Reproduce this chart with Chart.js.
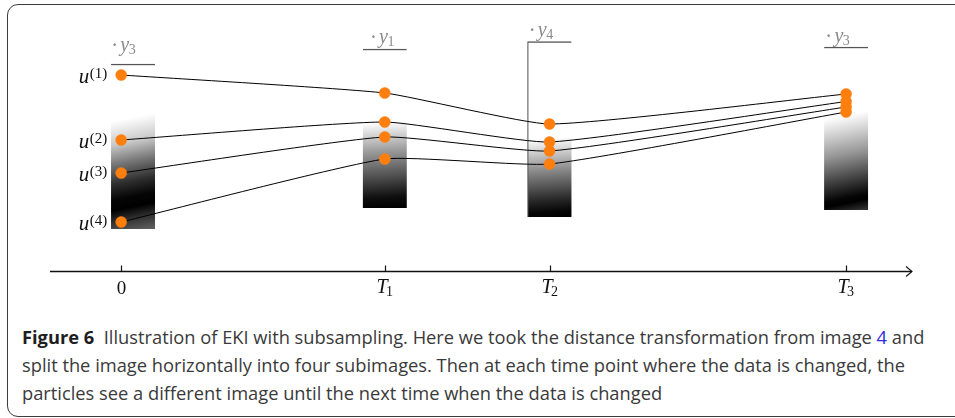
<!DOCTYPE html>
<html>
<head>
<meta charset="utf-8">
<script src="https://cdn.jsdelivr.net/npm/chart.js@4.4.0/dist/chart.umd.min.js"></script>
<style>
    html, body { margin: 0; padding: 0; background: #fff; overflow: hidden; }
    body { width: 955px; height: 418px; position: relative; }
    .frame {
        position: absolute; left: 7px; top: 4px; width: 1000px; height: 411px;
        border: 1.5px solid #3c3c3c; border-radius: 11px;
    }
    #chartWrap { position: absolute; left: 0; top: 0; width: 955px; height: 305px; }
    .caption {
        position: absolute; left: 22px; top: 323px;
        font-family: "Open Sans", "Noto Sans", sans-serif; font-size: 18.3px;
        line-height: 28px; color: #3a3a3a; white-space: nowrap;
    }
    .caption b { color: #1e1e1e; font-weight: 700; }
    .caption .ref { color: #2b2bdc; }
</style>
</head>
<body>
<div class="frame"></div>
<div id="chartWrap"><canvas id="ekiChart"></canvas></div>
<div class="caption">
    <div><b>Figure 6</b>&nbsp; Illustration of EKI with subsampling. Here we took the distance transformation from image <span class="ref">4</span> and</div>
    <div>split the image horizontally into four subimages. Then at each time point where the data is changed, the</div>
    <div>particles see a different image until the next time when the data is changed</div>
</div>

<script>
// time points where the data changes
const timePoints = [0, 1, 1.625, 2.75];
const timeLabels = [['0', ''], ['T', '1'], ['T', '2'], ['T', '3']];

// particle positions at each time point (arbitrary height units)
const particleNames = ['1', '2', '3', '4'];
const u1 = [19.6, 17.8, 14.7, 17.7];
const u2 = [13.1, 14.9, 12.9, 16.95];
const u3 = [9.8, 13.4, 12.0, 16.4];
const u4 = [4.9, 11.2, 10.7, 15.9];

// sub-images shown at each time point: centre, bottom, top
const imageX = [0.045, 1, 1.625, 2.75];
const imageBottom = [4.2, 6.3, 5.4, 6.1];
const imageTop = [20.7, 22.2, 22.95, 22.4];
const imageNames = ['3', '1', '4', '3'];

// gradient look of every sub-image (fraction of height, grey level)
const imageShades = [
    [[0, 255], [0.33, 255], [0.47, 200], [0.58, 120], [0.70, 45], [0.79, 5], [0.85, 0], [0.92, 50], [1, 95]],
    [[0, 255], [0.46, 255], [0.54, 210], [0.65, 150], [0.82, 70], [0.93, 15], [1, 0]],
    [[0, 255], [0.55, 255], [0.62, 210], [0.73, 140], [0.90, 40], [0.97, 5], [1, 0]],
    [[0, 255], [0.42, 255], [0.51, 215], [0.65, 150], [0.81, 60], [0.91, 5], [0.94, 0], [1, 50]]
];
const imageTilt = [9, 3, 3, 9];
const imageBorders = [
    { top: 1.5, right: 0, bottom: 0, left: 0 },
    { top: 1.5, right: 0, bottom: 0, left: 0 },
    { top: 1.5, right: 0, bottom: 0, left: 1.2 },
    { top: 1.5, right: 0, bottom: 0, left: 0 }
];
// label placement above each image: [x offset from left edge, baseline above top]
const imageLabelOffset = [[1, 13], [8, 6], [2, 6], [2, 5]];

const mathFont = '"Liberation Serif", "DejaVu Serif", serif';
const orange = '#ff7f0e';

function shadeGradient(ctx) {
    if (ctx.type !== 'data') return '#888';
    const chart = ctx.chart;
    const x = chart.scales.x, y = chart.scales.y;
    if (!x || !y) return '#888';
    const i = ctx.dataIndex;
    const top = y.getPixelForValue(imageTop[i]);
    const bottom = y.getPixelForValue(imageBottom[i]);
    const cx = x.getPixelForValue(imageX[i]);
    if (![top, bottom, cx].every(Number.isFinite) || bottom <= top) return '#888';
    const h = bottom - top;
    const dx = imageTilt[i] * h / 44;
    const g = chart.ctx.createLinearGradient(cx - dx / 2, top, cx + dx / 2, bottom);
    imageShades[i].forEach(s => {
        const v = s[1];
        g.addColorStop(s[0], `rgb(${v},${v},${v})`);
    });
    return g;
}

function particleSeries(values) {
    return values.map((v, i) => ({ x: timePoints[i], y: v }));
}

const particles = [u1, u2, u3, u4];

const annotatePlugin = {
    id: 'ekiAnnotations',
    afterDatasetsDraw(chart) {
        const ctx = chart.ctx;
        const x = chart.scales.x, y = chart.scales.y;
        const area = chart.chartArea;
        const axisY = Math.round(y.getPixelForValue(0)) + 0.5;

        ctx.save();
        // time axis with arrow
        ctx.strokeStyle = '#111';
        ctx.lineWidth = 1.6;
        ctx.beginPath();
        ctx.moveTo(area.left, axisY);
        ctx.lineTo(area.right, axisY);
        ctx.stroke();
        ctx.lineWidth = 1.1;
        ctx.beginPath();
        ctx.moveTo(area.right - 6, axisY - 5);
        ctx.lineTo(area.right, axisY);
        ctx.lineTo(area.right - 6, axisY + 5);
        ctx.stroke();

        // ticks and labels
        ctx.fillStyle = '#111';
        ctx.textBaseline = 'alphabetic';
        timePoints.forEach((t, i) => {
            const px = Math.round(x.getPixelForValue(t)) + 0.5;
            ctx.lineWidth = 1.2;
            ctx.beginPath();
            ctx.moveTo(px, axisY - 6);
            ctx.lineTo(px, axisY);
            ctx.stroke();
            const [main, sub] = timeLabels[i];
            if (!sub) {
                ctx.font = '19px ' + mathFont;
                ctx.textAlign = 'center';
                ctx.fillText(main, px, axisY + 22);
            } else {
                ctx.textAlign = 'left';
                ctx.font = 'italic 20px ' + mathFont;
                const w = ctx.measureText(main).width;
                const left = px - 9;
                ctx.fillText(main, left, axisY + 21);
                ctx.font = '14px ' + mathFont;
                ctx.fillText(sub, left + w - 1.5, axisY + 24);
            }
        });

        // particle names at the start
        particles.forEach((vals, k) => {
            const px = x.getPixelForValue(timePoints[0]);
            const py = y.getPixelForValue(vals[0]);
            ctx.textAlign = 'left';
            const sup = '(' + particleNames[k] + ')';
            ctx.font = '15px ' + mathFont;
            const sw = ctx.measureText(sup).width;
            ctx.font = 'italic 21px ' + mathFont;
            const uw = ctx.measureText('u').width;
            const right = px - 14;
            const left = right - sw - uw - 0.5;
            ctx.fillText('u', left, py + 8);
            ctx.font = '15px ' + mathFont;
            ctx.fillText(sup, left + uw + 0.5, py + 3);
        });

        // data labels above each image
        ctx.fillStyle = '#8a8a8a';
        ctx.textAlign = 'left';
        imageX.forEach((c, i) => {
            const top = y.getPixelForValue(imageTop[i]);
            const left = x.getPixelForValue(c) - 22;
            const [ox, oy] = imageLabelOffset[i];
            const base = top - oy;
            let cx = left + ox;
            ctx.font = 'bold 16px ' + mathFont;
            ctx.fillText('\u00b7', cx, base - 1);
            cx += ctx.measureText('\u00b7').width + 3;
            ctx.font = 'italic 20px ' + mathFont;
            ctx.fillText('y', cx, base);
            cx += ctx.measureText('y').width;
            ctx.font = '14px ' + mathFont;
            ctx.fillText(imageNames[i], cx - 0.5, base + 3);
        });
        ctx.restore();
    }
};

const datasets = particles.map((vals, k) => ({
    type: 'line',
    label: 'u(' + particleNames[k] + ')',
    data: particleSeries(vals),
    borderColor: '#000',
    borderWidth: 1,
    tension: 0.15,
    pointRadius: 5.5,
    pointBackgroundColor: orange,
    pointBorderColor: orange,
    pointBorderWidth: 0.5,
    order: 1
}));

datasets.push({
    type: 'bar',
    label: 'subimages',
    data: imageX.map((c, i) => ({ x: c, y: [imageBottom[i], imageTop[i]] })),
    backgroundColor: shadeGradient,
    borderColor: '#555',
    borderWidth: ctx => imageBorders[ctx.dataIndex] || 0,
    borderSkipped: false,
    barThickness: 44,
    order: 2
});

new Chart(document.getElementById('ekiChart'), {
    type: 'line',
    data: { datasets },
    options: {
        responsive: true,
        maintainAspectRatio: false,
        animation: false,
        layout: { padding: { left: 50, right: 43, top: 21, bottom: 34 } },
        plugins: { legend: { display: false }, tooltip: { enabled: false } },
        scales: {
            x: { type: 'linear', min: -0.27, max: 3.0, offset: false, display: false },
            y: { type: 'linear', min: 0, max: 25, display: false }
        }
    },
    plugins: [annotatePlugin]
});
</script>
</body>
</html>
